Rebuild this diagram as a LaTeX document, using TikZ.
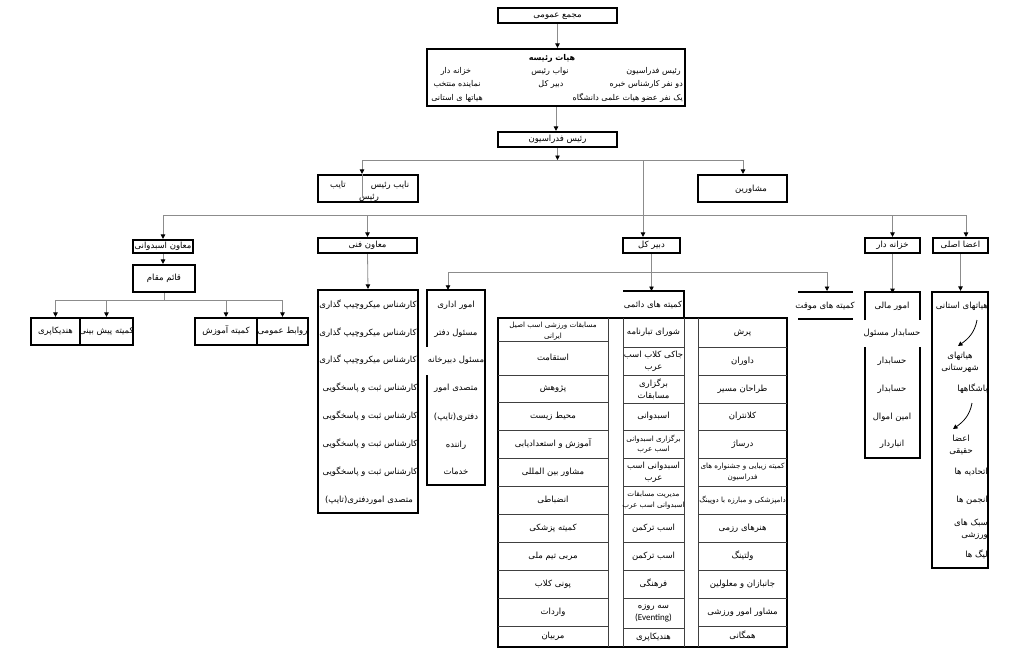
\documentclass[tikz,border=0pt]{standalone}
\usepackage{fontspec}
\usetikzlibrary{arrows.meta,fit,calc}
\TeXXeTstate=1
\newfontfamily\arabicfont[Script=Arabic]{DejaVu Sans}
\newfontfamily\latinfont{Carlito}
\newcommand\fa[1]{\beginR#1\endR}
\tikzset{
  boxline/.style={draw=black,line width=2.2pt},
  box/.style={boxline,inner sep=0pt,rectangle},
  conn/.style={draw=black!45,line width=0.8pt},
  arr/.style={conn,-{Triangle[length=4.5pt,width=4.5pt,color=black]}},
  grid/.style={draw=black!75,line width=0.7pt},
  txt/.style={inner sep=0pt,font=\arabicfont\fontsize{8.5}{11}\selectfont,text height=6.5pt,text depth=2pt},
  htxt/.style={inner sep=0pt,font=\arabicfont\fontsize{8}{10}\selectfont,text height=6pt,text depth=2pt},
  mtxt/.style={inner sep=0pt,font=\arabicfont\fontsize{8.5}{12}\selectfont,align=center},
  stxt/.style={inner sep=0pt,font=\arabicfont\fontsize{7.2}{10.5}\selectfont,align=center},
}
\begin{document}
\begin{tikzpicture}[x=1pt,y=-1pt]
\useasboundingbox[fill=white] (0,0) rectangle (1024,657);

% ---------- top ----------
\node[box,fit={(498,8)(617,23)}] (majma) {};
\node[txt] (majmaT) at (majma) {\fa{مجمع عمومی}};
\node[box,fit={(427,49)(685,106)}] (hayat) {};
\node[htxt,font=\arabicfont\bfseries\fontsize{8}{10}\selectfont] (hT) at (552,58) {\fa{هیات رئیسه}};
\node[htxt,anchor=east] (h1) at (681,71) {\fa{رئیس فدراسیون}};
\node[htxt,anchor=east] (h2) at (683,84) {\fa{دو نفر کارشناس خبره}};
\node[htxt,anchor=east] (h3) at (683,98) {\fa{یک نفر عضو هیات علمی دانشگاه}};
\node[htxt] (h4) at (550,71) {\fa{نواب رئیس}};
\node[htxt] (h5) at (551,84) {\fa{دبیر کل}};
\node[htxt] (h6) at (456,71) {\fa{خزانه دار}};
\node[htxt] (h7) at (457,84) {\fa{نماینده منتخب}};
\node[htxt] (h8) at (457,98) {\fa{هیاتها ی استانی}};
\node[box,fit={(498,132)(617,147)}] (rais) {};
\node[txt] (raisT) at (rais) {\fa{رئیس فدراسیون}};
\draw[arr] (majma.south) -- (majma.south |- hayat.north);
\draw[arr] (hayat.south) -- (hayat.south |- rais.north);

% ---------- row 2 ----------
\node[box,fit={(318,175)(418,202)}] (nayeb) {};
\node[txt] (n1) at (390,185) {\fa{نایب رئیس}};
\node[txt] (n2) at (338,185) {\fa{تایب}};
\node[txt] (n3) at (369,197) {\fa{رئیس}};
\node[box,fit={(698,175)(787,202)}] (moshaver) {};
\node[txt] (m1) at (751,189) {\fa{مشاورین}};
\coordinate (b1L) at (362,160);
\coordinate (b1R) at (743,160);
\coordinate (b1D) at (643,160);
\draw[arr] (rais.south) -- (rais.south |- b1L);
\draw[conn] (b1L) -- (b1R);
\draw[arr] (b1L) -- (b1L |- nayeb.north);
\draw[conn] (b1L |- nayeb.north) -- ++(0,24);
\draw[arr] (b1R) -- (b1R |- moshaver.north);

% ---------- row 3 ----------
\node[box,fit={(133,240)(193,253)}] (asb) {};
\node[txt] (asbT) at (asb) {\fa{معاون اسبدوانی}};
\node[box,fit={(318,238)(417,253)}] (fanni) {};
\node[txt] (fanniT) at (fanni) {\fa{معاون فنی}};
\node[box,fit={(623,238)(680,253)}] (dabir) {};
\node[txt] (dabirT) at (dabir) {\fa{دبیر کل}};
\node[box,fit={(865,238)(920,253)}] (khazane) {};
\node[txt] (khazaneT) at (khazane) {\fa{خزانه دار}};
\node[box,fit={(933,238)(988,253)}] (aza) {};
\node[txt] (azaT) at (aza) {\fa{اعضا اصلی}};
\draw[arr] (b1D) -- (b1D |- dabir.north);
\coordinate (b2L) at (163,215);
\coordinate (b2R) at (966,215);
\draw[conn] (b2L) -- (b2R);
\draw[arr] (b2L) -- (b2L |- asb.north);
\draw[arr] (fanni.north |- b2L) -- (fanni.north);
\draw[arr] (khazane.north |- b2L) -- (khazane.north);
\draw[arr] (b2R) -- (b2R |- aza.north);

% ---------- left branch ----------
\node[box,fit={(133,265)(195,292)}] (ghaem) {};
\node[txt] (ghaemT) at (ghaem) {\fa{قائم مقام}};
\draw[arr] (asb.south) -- (asb.south |- ghaem.north);
\node[box,fit={(31,318)(80,345)}] (handi) {};
\node[txt] (handiT) at (handi) {\fa{هندیکاپری}};
\node[box,fit={(80,318)(133,345)}] (pish) {};
\node[txt] (pishT) at (pish) {\fa{کمیته پیش بینی}};
\node[box,fit={(195,318)(257,345)}] (amoozesh) {};
\node[txt] (amoozeshT) at (amoozesh) {\fa{کمیته آموزش}};
\node[box,fit={(257,318)(308,345)}] (ravabet) {};
\node[txt] (ravabetT) at (ravabet) {\fa{روابط عمومی}};
\coordinate (b3) at (165,300);
\draw[conn] (ghaem.south) -- (ghaem.south |- b3);
\draw[conn] (handi.north |- b3) -- (ravabet.north |- b3);
\draw[arr] (handi.north |- b3) -- (handi.north);
\draw[arr] (pish.north |- b3) -- (pish.north);
\draw[arr] (amoozesh.north |- b3) -- (amoozesh.north);
\draw[arr] (ravabet.north |- b3) -- (ravabet.north);

% ---------- fanni column ----------
\node[box,fit={(318,290)(418,513)}] (fcol) {};
\draw[arr] (fanni.south) -- (fcol.north);
\node[txt] (F1) at (368,305) {\fa{کارشناس میکروچیپ گذاری}};
\node[txt] (F2) at (368,333) {\fa{کارشناس میکروچیپ گذاری}};
\node[txt] (F3) at (368,360) {\fa{کارشناس میکروچیپ گذاری}};
\node[txt] (F4) at (370,388) {\fa{کارشناس ثبت و پاسخگویی}};
\node[txt] (F5) at (370,416) {\fa{کارشناس ثبت و پاسخگویی}};
\node[txt] (F6) at (370,444) {\fa{کارشناس ثبت و پاسخگویی}};
\node[txt] (F7) at (370,472) {\fa{کارشناس ثبت و پاسخگویی}};
\node[txt] (F8) at (369,500) {\fa{متصدی اموردفتری(تایپ)}};

% ---------- edari column ----------
\node[fit={(427,290)(485,485)},inner sep=0pt] (edari) {};
\draw[boxline] ($(edari.north west)+(0,57)$) -- (edari.north west) -- (edari.north east)
  -- (edari.south east) -- (edari.south west) -- ($(edari.south west)+(0,-110)$);
\node[txt] (E1) at (456,305) {\fa{امور اداری}};
\node[txt] (E2) at (456,333) {\fa{مسئول دفتر}};
\node[txt] (E3) at (456,360) {\fa{مسئول دبیرخانه}};
\node[txt] (E4) at (456,388) {\fa{متصدی امور}};
\node[txt] (E5) at (456,417) {\fa{دفتری(تایپ)}};
\node[txt] (E6) at (456,445) {\fa{راننده}};
\node[txt] (E7) at (456,472) {\fa{خدمات}};

% ---------- movaghat ----------
\node[txt] (movaghat) at (825,306) {\fa{کمیته های موقت}};
\draw[boxline] (798,292) -- (853,292);
\draw[boxline] (798,319) -- (853,319);
\coordinate (b4L) at (448,272);
\coordinate (b4R) at (827,272);
\coordinate (hdr) at (650,291);
\draw[conn] (b4L) -- (b4R);
\draw[arr] (b4L) -- (b4L |- edari.north);
\draw[arr] (b4R) -- ++(0,19);
\draw[arr] (dabir.south) -- (dabir.south |- hdr);

% ---------- big box ----------
\node[txt] (daemi) at (653,305) {\fa{کمیته های دائمی}};
\draw[boxline] (623,291) -- (684,291) -- (684,318);
\draw[boxline] (498,318) rectangle (787,647);
\foreach \x in {608,623,684,698} \draw[grid] (\x,318) -- (\x,647);
\foreach \y in {341,375,402,430,458,486,514,542,570,598,626} \draw[grid] (498,\y) -- (608,\y);
\foreach \y in {347,375,403,430,458,486,514,542,570,598,628} \draw[grid] (623,\y) -- (684,\y);
\foreach \y in {347,375,403,430,458,486,514,542,570,598,626} \draw[grid] (698,\y) -- (787,\y);

% left column
\node[stxt] (L1) at (553,331) {\fa{مسابقات ورزشی اسب اصیل}\\\fa{ایرانی}};
\node[txt] (L2) at (553,358) {\fa{استقامت}};
\node[txt] (L3) at (553,388.5) {\fa{پژوهش}};
\node[txt] (L4) at (553,416) {\fa{محیط زیست}};
\node[txt] (L5) at (553,444) {\fa{آموزش و استعدادیابی}};
\node[txt] (L6) at (553,472) {\fa{مشاور بین المللی}};
\node[txt] (L7) at (553,500) {\fa{انضباطی}};
\node[txt] (L8) at (553,528) {\fa{کمیته پزشکی}};
\node[txt] (L9) at (553,556) {\fa{مربی تیم ملی}};
\node[txt] (L10) at (553,584) {\fa{پونی کلاب}};
\node[txt] (L11) at (553,612) {\fa{واردات}};
\node[txt] (L12) at (553,636.5) {\fa{مربیان}};

% middle column
\node[txt] (M1) at (653.5,332.5) {\fa{شورای تبارنامه}};
\node[mtxt] (M2) at (653.5,361) {\fa{جاکی کلاب اسب}\\\fa{عرب}};
\node[mtxt] (M3) at (653.5,389) {\fa{برگزاری}\\\fa{مسابقات}};
\node[txt] (M4) at (653.5,416.5) {\fa{اسبدوانی}};
\node[stxt] (M5) at (653.5,444) {\fa{برگزاری اسبدوانی}\\\fa{اسب عرب}};
\node[mtxt] (M6) at (653.5,472) {\fa{اسبدوانی اسب}\\\fa{عرب}};
\node[stxt] (M7) at (653.5,500) {\fa{مدیریت مسابقات}\\\fa{اسبدوانی اسب عرب}};
\node[txt] (M8) at (653.5,528) {\fa{اسب ترکمن}};
\node[txt] (M9) at (653.5,556) {\fa{اسب ترکمن}};
\node[txt] (M10) at (653.5,584) {\fa{فرهنگی}};
\node[mtxt] (M11) at (653.5,613) {\fa{سه روزه}\\{\latinfont\fontsize{9}{12}\selectfont (Eventing)}};
\node[txt] (M12) at (653.5,637.5) {\fa{هندیکاپری}};

% right column
\node[txt] (R1) at (742.5,332.5) {\fa{پرش}};
\node[txt] (R2) at (742.5,361) {\fa{داوران}};
\node[txt] (R3) at (742.5,389) {\fa{طراحان مسیر}};
\node[txt] (R4) at (742.5,416.5) {\fa{کلانتران}};
\node[txt] (R5) at (742.5,444) {\fa{درساژ}};
\node[stxt] (R6) at (742.5,472) {\fa{کمیته زیبایی و جشنواره های}\\\fa{فدراسیون}};
\node[stxt] (R7) at (742.5,500) {\fa{دامپزشکی و مبارزه با دوپینگ}};
\node[txt] (R8) at (742.5,528) {\fa{هنرهای رزمی}};
\node[txt] (R9) at (742.5,556) {\fa{ولتینگ}};
\node[txt] (R10) at (742.5,584) {\fa{جانبازان و معلولین}};
\node[txt] (R11) at (742.5,612) {\fa{مشاور امور ورزشی}};
\node[txt] (R12) at (742.5,636.5) {\fa{همگانی}};

% ---------- khazane column ----------
\draw[arr] (khazane.south) -- ++(0,39);
\draw[boxline] (865,320) -- (865,292) -- (920,292) -- (920,320);
\draw[boxline] (865,347) -- (865,458) -- (920,458) -- (920,347);
\node[txt] (K1) at (892,306) {\fa{امور مالی}};
\node[txt] (K2) at (892,333) {\fa{حسابدار مسئول}};
\node[txt] (K3) at (892,361) {\fa{حسابدار}};
\node[txt] (K4) at (892,389) {\fa{حسابدار}};
\node[txt] (K5) at (892,417) {\fa{امین اموال}};
\node[txt] (K6) at (892,444) {\fa{انباردار}};

% ---------- aza column ----------
\node[box,fit={(932,292)(988,568)}] (acol) {};
\draw[arr] (aza.south) -- (aza.south |- acol.north);
\node[txt,anchor=east] (A1) at (988,306) {\fa{هیاتهای استانی}};
\node[mtxt] (A2) at (960,362) {\fa{هیاتهای}\\\fa{شهرستانی}};
\node[txt,anchor=east] (A3) at (988,389) {\fa{باشگاهها}};
\node[mtxt] (A4) at (961,445) {\fa{اعضا}\\\fa{حقیقی}};
\node[txt,anchor=east] (A5) at (988,472) {\fa{اتحادیه ها}};
\node[txt,anchor=east] (A6) at (988,500) {\fa{انجمن ها}};
\node[mtxt,align=right,anchor=east] (A7) at (988,529) {\fa{سبک های}\\\fa{ورزشی}};
\node[txt,anchor=east] (A8) at (988,555) {\fa{لیگ ها}};
\coordinate (c1a) at (977,320);
\coordinate (c1b) at (958,346);
\coordinate (c2a) at (972,403);
\coordinate (c2b) at (953,429);
\draw[arr,draw=black] (c1a) to[out=-100,in=35] (c1b);
\draw[arr,draw=black] (c2a) to[out=-100,in=35] (c2b);
\end{tikzpicture}
\end{document}
